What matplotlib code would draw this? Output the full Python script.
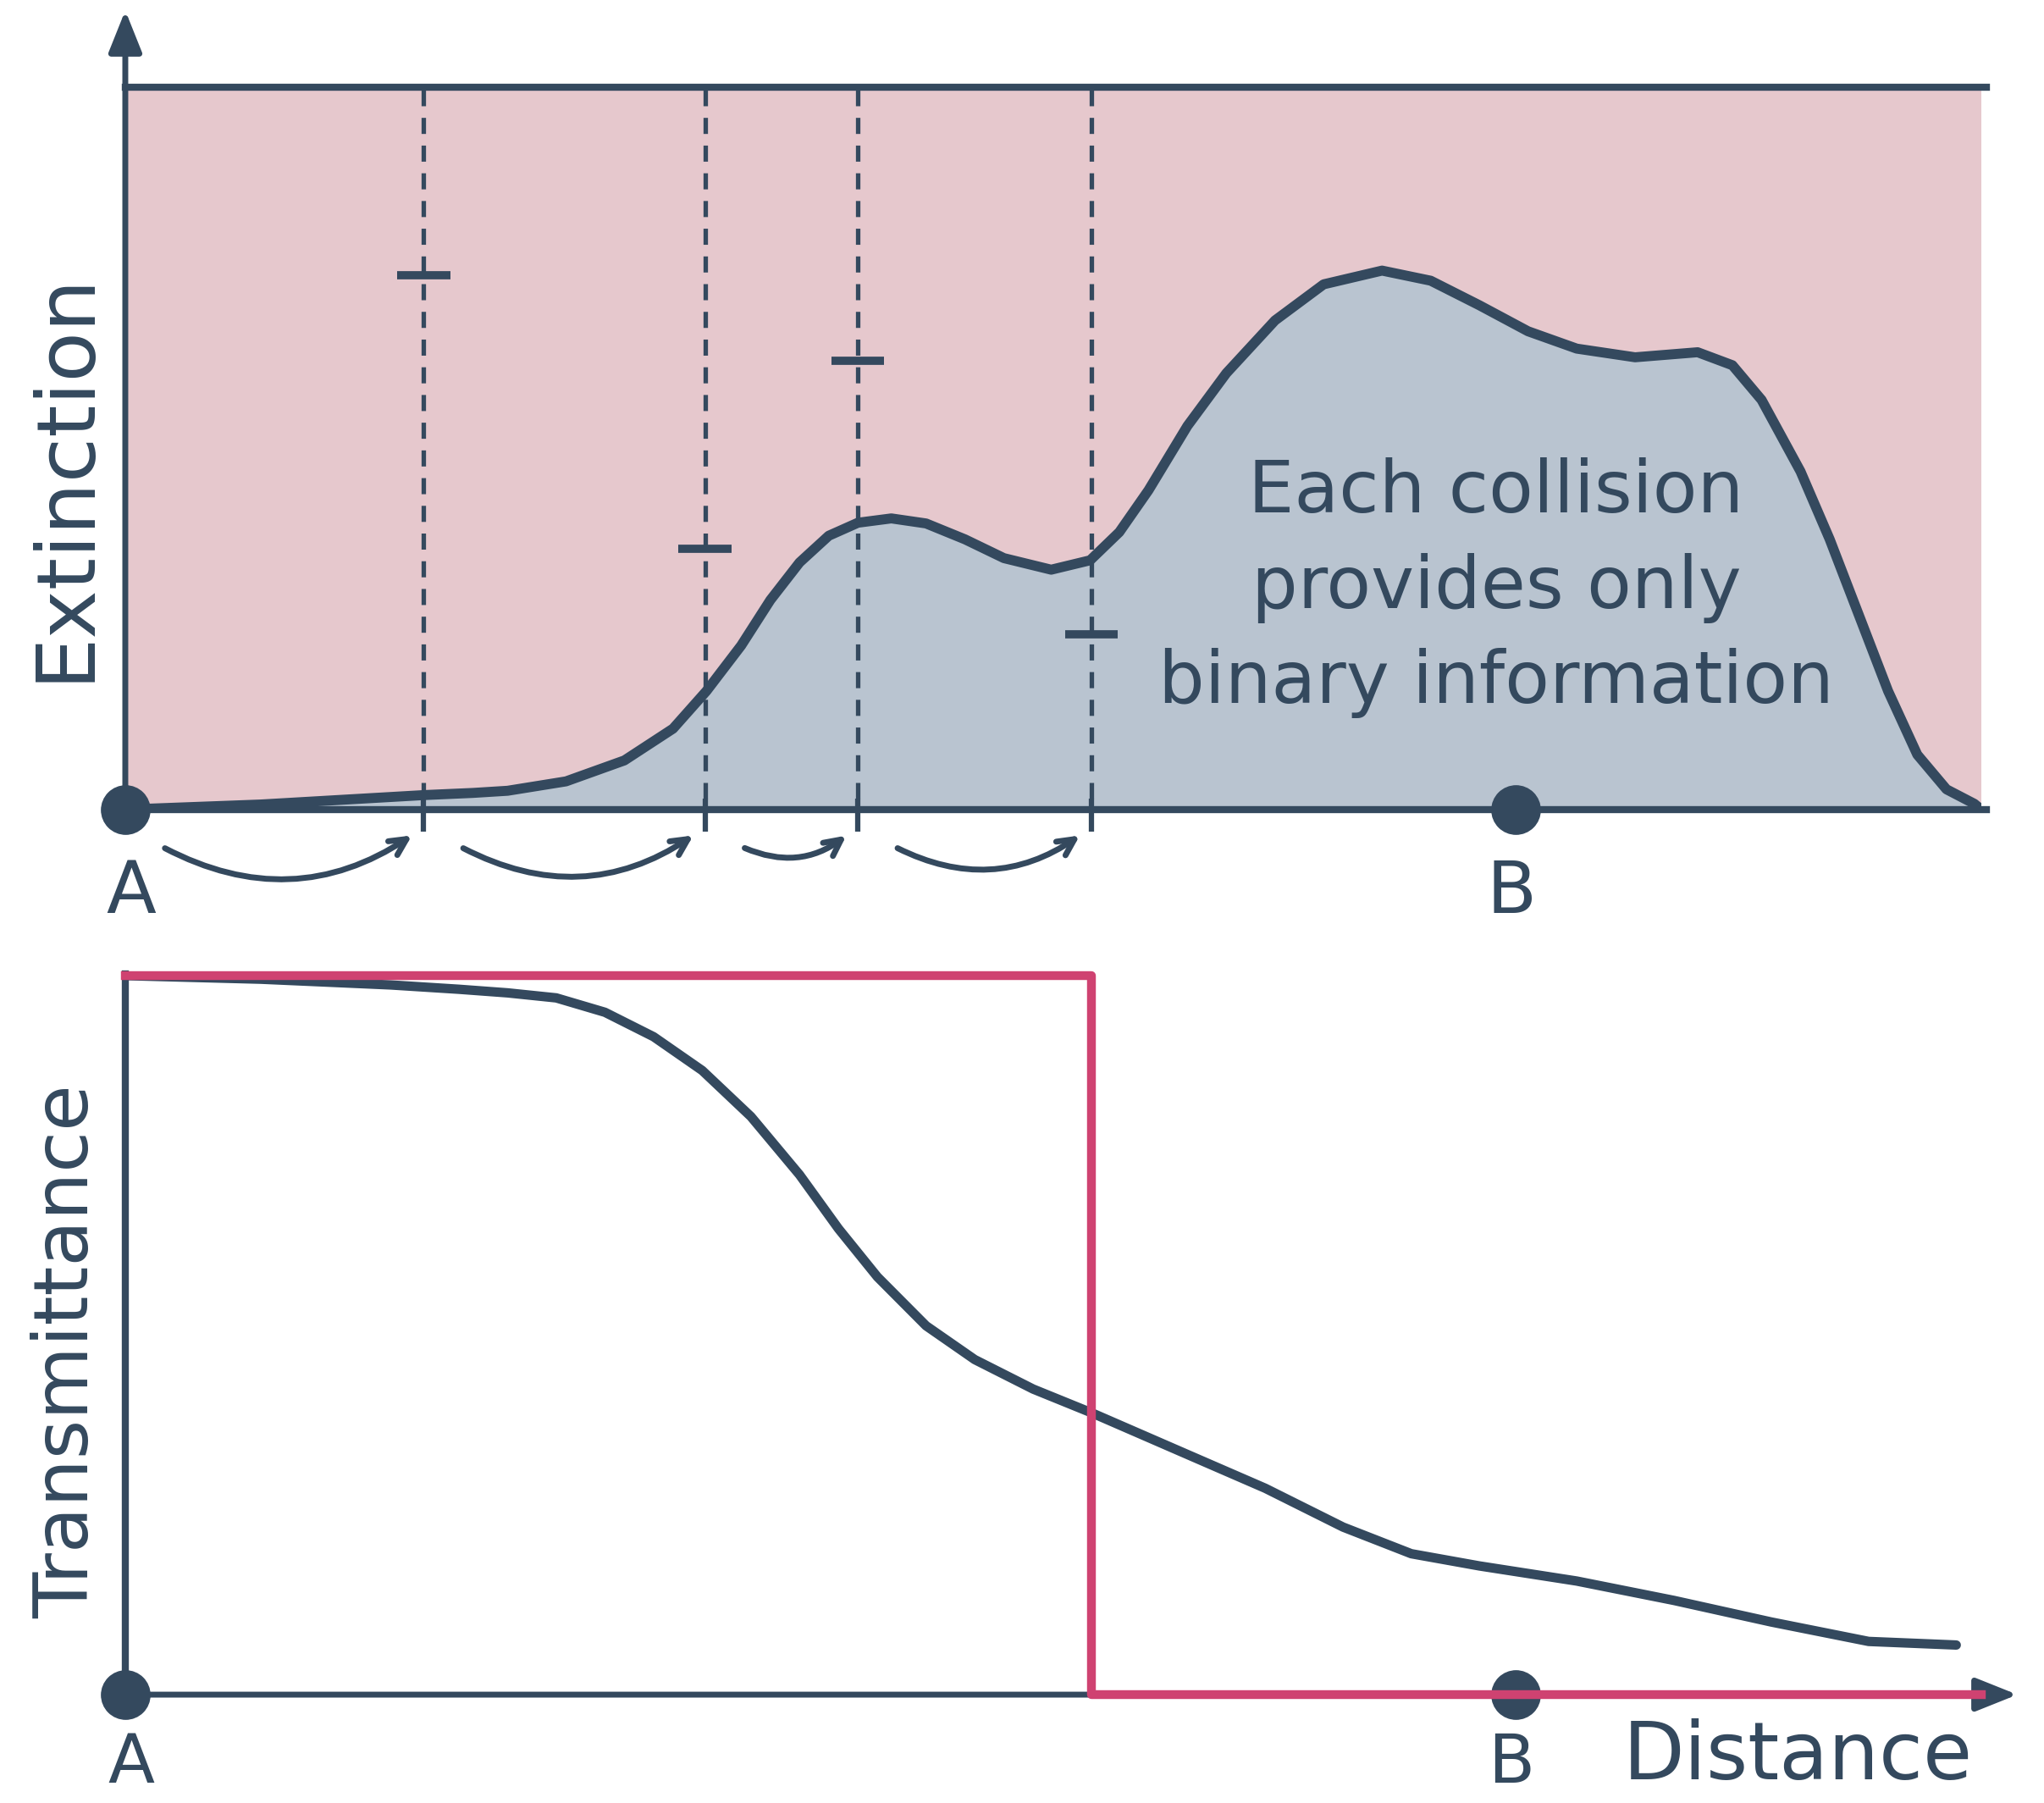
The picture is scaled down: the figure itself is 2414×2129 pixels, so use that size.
import numpy as np
import matplotlib.pyplot as plt
from matplotlib.patches import FancyArrowPatch

navy = "#34495e"
pink_bg = "#e6c8cd"
blue_fill = "#b9c4d0"
red = "#cf4271"

# distance along the ray, A = 0, B = 1
x_end = 1.335
b_pos = 1.0

# extinction profile
ext_x = [0.0, 0.0975, 0.2146, 0.25, 0.275, 0.317, 0.359, 0.394, 0.418, 0.443,
         0.464, 0.485, 0.506, 0.527, 0.551, 0.576, 0.604, 0.632, 0.666, 0.694,
         0.715, 0.736, 0.764, 0.792, 0.827, 0.862, 0.904, 0.939, 0.974, 1.009,
         1.044, 1.086, 1.131, 1.156, 1.177, 1.205, 1.226, 1.247, 1.268, 1.289,
         1.310, 1.330, 1.335]
ext_y = [0.0, 0.007, 0.020, 0.023, 0.026, 0.039, 0.068, 0.112, 0.164, 0.227,
         0.290, 0.342, 0.379, 0.397, 0.403, 0.396, 0.374, 0.348, 0.332, 0.345,
         0.384, 0.442, 0.531, 0.604, 0.677, 0.727, 0.746, 0.732, 0.698, 0.662,
         0.638, 0.626, 0.633, 0.615, 0.567, 0.468, 0.374, 0.269, 0.164, 0.076,
         0.028, 0.008, 0.0]

# collision points and their sampled extinction
collisions = np.array([0.2146, 0.417, 0.527, 0.695])
samples = [0.740, 0.361, 0.621, 0.242]

# transmittance along the ray
tr_x = [0.0, 0.0975, 0.191, 0.24, 0.275, 0.310, 0.345, 0.380, 0.415, 0.450,
        0.485, 0.513, 0.541, 0.576, 0.611, 0.653, 0.695, 0.764, 0.820, 0.876,
        0.925, 0.974, 1.044, 1.114, 1.184, 1.254, 1.317]
tr_y = [1.0, 0.995, 0.987, 0.981, 0.976, 0.969, 0.949, 0.915, 0.868, 0.804,
        0.723, 0.648, 0.581, 0.513, 0.466, 0.425, 0.392, 0.334, 0.287, 0.233,
        0.196, 0.179, 0.158, 0.131, 0.101, 0.074, 0.069]

# binary estimate: 1 until the last collision, 0 afterwards
step_x = [0.0, collisions[-1], collisions[-1], x_end]
step_y = [1.0, 1.0, 0.0, 0.0]

fig = plt.figure(figsize=(24.14, 21.29), dpi=100)
ax1 = fig.add_axes([0.0613, 0.551, 0.908, 0.4007])
ax2 = fig.add_axes([0.0613, 0.0601, 0.908, 0.3988])
for ax in (ax1, ax2):
    ax.set_xlim(0, x_end)
    ax.set_ylim(0, 1)
    ax.axis("off")

head = "-|>,head_length=1.5,head_width=0.6"

# ---- top: extinction ----
ax1.fill_between([0, x_end], 0, 1, color=pink_bg, lw=0)
ax1.fill_between(ext_x, 0, ext_y, color=blue_fill, lw=0)
ax1.vlines(collisions, 0.015, 1, colors=navy, lw=3.8,
           linestyles=(0, (3.6, 2.6)))
ax1.vlines(collisions, -0.031, 0.015, colors=navy, lw=4.5, clip_on=False)
ax1.hlines(samples, collisions - 0.019, collisions + 0.019, colors=navy, lw=7)
ax1.plot(ext_x, ext_y, color=navy, lw=8.5, solid_capstyle="round",
         solid_joinstyle="round")
ax1.plot([0, 1.339], [1, 1], color=navy, lw=6, clip_on=False)
ax1.plot([0, 1.339], [0, 0], color=navy, lw=6, clip_on=False)
ax1.annotate("", xy=(0, 1.106), xytext=(0, 0),
             arrowprops=dict(arrowstyle=head, color=navy, lw=5,
                             mutation_scale=20, shrinkA=0, shrinkB=0),
             annotation_clip=False)
ax1.scatter([0, b_pos], [0, 0], s=1700, color=navy, zorder=5, clip_on=False)

# jumps between successive collisions
starts = np.concatenate([[0.0], collisions[:-1]])
for s, e in zip(starts, collisions):
    arr = FancyArrowPatch((s + 0.027, -0.052), (e - 0.007, -0.034),
                          connectionstyle="arc3,rad=0.3",
                          arrowstyle="->,head_length=0.7,head_width=0.35",
                          mutation_scale=20, color=navy, lw=5,
                          clip_on=False)
    ax1.add_patch(arr)

ax1.text(0.986, 0.307, "Each collision\nprovides only\nbinary information",
         ha="center", va="center", fontsize=62, color=navy, linespacing=1.45)
ax1.text(-0.0324, 0.462, "Extinction", transform=ax1.transAxes, rotation=90,
         ha="center", va="center", fontsize=70, color=navy)
ax1.text(0.004, -0.116, "A", ha="center", va="center", fontsize=62, color=navy)
ax1.text(b_pos - 0.003, -0.116, "B", ha="center", va="center", fontsize=62,
         color=navy)

# ---- bottom: transmittance ----
ax2.plot([0, 0], [0, 1.002], color=navy, lw=6, clip_on=False)
ax2.annotate("", xy=(1.361, 0), xytext=(0, 0),
             arrowprops=dict(arrowstyle=head, color=navy, lw=5,
                             mutation_scale=20, shrinkA=0, shrinkB=0),
             annotation_clip=False)
ax2.scatter([0, b_pos], [0, 0], s=1700, color=navy, zorder=3, clip_on=False)
ax2.plot(tr_x, tr_y, color=navy, lw=8, solid_capstyle="round",
         solid_joinstyle="round", zorder=4)
ax2.plot(step_x, step_y, color=red, lw=7.5, zorder=5, clip_on=False)

ax2.text(-0.031, 0.478, "Transmittance", transform=ax2.transAxes, rotation=90,
         ha="center", va="center", fontsize=64, color=navy)
ax2.text(1.203, -0.087, "Distance", ha="center", va="center", fontsize=68,
         color=navy)
ax2.text(0.004, -0.097, "A", ha="center", va="center", fontsize=58, color=navy)
ax2.text(b_pos - 0.003, -0.097, "B", ha="center", va="center", fontsize=58,
         color=navy)

fig.savefig("out.png", dpi=100)
